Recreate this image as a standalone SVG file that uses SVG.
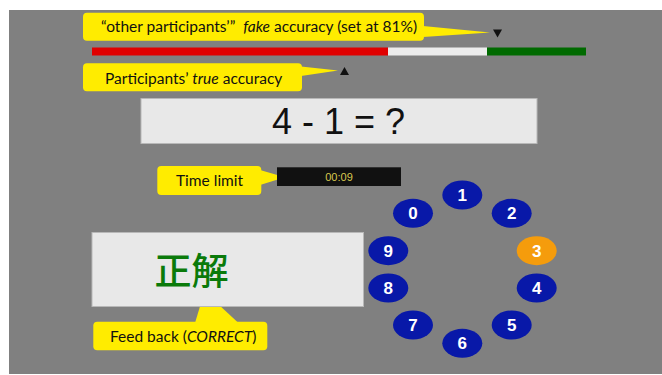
<svg xmlns="http://www.w3.org/2000/svg" width="662" height="375" viewBox="0 0 662 375">
  <style>
    .callout { fill: #ffec00; }
    .note { font-family: Lato, "Liberation Sans", sans-serif; font-size: 15.5px; fill: #111111; }
    .key { fill: #0818a8; }
    .key-on { fill: #f59c0c; }
    .digit { font-family: "Liberation Sans", Arial, sans-serif; font-size: 17px; font-weight: bold; fill: #ffffff; text-anchor: middle; }
    .panel { fill: #e8e8e8; stroke: #b8b8b8; stroke-width: 1; }
  </style>

  <!-- screen -->
  <rect x="0" y="0" width="662" height="375" fill="#ffffff"/>
  <rect x="9" y="10" width="653" height="364" fill="#808080"/>

  <!-- accuracy bar -->
  <g id="accuracy-bar">
    <rect x="92" y="47.5" width="296" height="8" fill="#e00000"/>
    <rect x="388" y="47.5" width="99" height="8" fill="#ececec"/>
    <rect x="487" y="47.5" width="99" height="8" fill="#006a00"/>
    <!-- fake accuracy pointer -->
    <polygon points="493,29.5 502,29.5 497.5,37.5" fill="#111111"/>
    <!-- true accuracy pointer -->
    <polygon points="340,75 349,75 344.5,67" fill="#111111"/>
  </g>

  <!-- callout tails -->
  <g id="connectors">
    <polygon class="callout" points="423,26 490,32.5 423,37"/>
    <polygon class="callout" points="301,66.5 338,70.5 301,76"/>
    <polygon class="callout" points="260,170 285,177.3 260,185"/>
    <polygon class="callout" points="195,323 204.5,291.5 238.5,323"/>
  </g>

  <g id="fake-accuracy-label">
    <rect class="callout" x="83" y="12.7" width="341" height="28" rx="4"/>
    <text class="note" x="101" y="31.5" xml:space="preserve">“other participants’”  <tspan font-style="italic">fake</tspan> accuracy (set at 81%)</text>
  </g>

  <g id="true-accuracy-label">
    <rect class="callout" x="83" y="63.3" width="219" height="28" rx="4"/>
    <text class="note" x="105" y="83.5">Participants’ <tspan font-style="italic">true</tspan> accuracy</text>
  </g>

  <g id="question">
    <rect class="panel" x="141" y="98.5" width="396" height="45"/>
    <text x="338.5" y="134.3" font-family="'Liberation Sans', Arial, sans-serif" font-size="36" fill="#111111" text-anchor="middle">4 - 1 = ?</text>
  </g>

  <g id="timer">
    <rect x="277" y="167.3" width="124" height="18.7" fill="#111111"/>
    <text x="339" y="180.6" font-family="'Liberation Sans', Arial, sans-serif" font-size="11" fill="#d8c850" text-anchor="middle">00:09</text>
  </g>

  <g id="time-limit-label">
    <rect class="callout" x="157.3" y="166" width="104" height="29" rx="4"/>
    <text class="note" x="176" y="185.5">Time limit</text>
  </g>

  <g id="feedback">
    <rect class="panel" x="92" y="232.5" width="271.5" height="74"/>
    <text x="191.5" y="284.5" font-family="'Noto Sans CJK JP', 'Noto Sans CJK SC', sans-serif" font-size="37" font-weight="500" fill="#0a7a0a" text-anchor="middle">正解</text>
  </g>

  <g id="feedback-label">
    <rect class="callout" x="93.3" y="321.7" width="174" height="28.5" rx="4"/>
    <text class="note" x="110" y="341.7">Feed back (<tspan font-style="italic">CORRECT</tspan>)</text>
  </g>

  <!-- answer keypad -->
  <g id="key-1"><ellipse class="key" cx="462.3" cy="195" rx="20" ry="14.5"/><text class="digit" x="462.3" y="201">1</text></g>
  <g id="key-2"><ellipse class="key" cx="511.7" cy="213.3" rx="20" ry="14.5"/><text class="digit" x="511.7" y="219.3">2</text></g>
  <g id="key-3"><ellipse class="key-on" cx="536.7" cy="250.7" rx="20" ry="14.5"/><text class="digit" x="536.7" y="256.7">3</text></g>
  <g id="key-4"><ellipse class="key" cx="536.7" cy="288" rx="20" ry="14.5"/><text class="digit" x="536.7" y="294">4</text></g>
  <g id="key-5"><ellipse class="key" cx="511.7" cy="325" rx="20" ry="14.5"/><text class="digit" x="511.7" y="331">5</text></g>
  <g id="key-6"><ellipse class="key" cx="462.3" cy="343.3" rx="20" ry="14.5"/><text class="digit" x="462.3" y="349.3">6</text></g>
  <g id="key-7"><ellipse class="key" cx="413" cy="325" rx="20" ry="14.5"/><text class="digit" x="413" y="331">7</text></g>
  <g id="key-8"><ellipse class="key" cx="388.3" cy="288" rx="20" ry="14.5"/><text class="digit" x="388.3" y="294">8</text></g>
  <g id="key-9"><ellipse class="key" cx="388.3" cy="250.7" rx="20" ry="14.5"/><text class="digit" x="388.3" y="256.7">9</text></g>
  <g id="key-0"><ellipse class="key" cx="413" cy="213.3" rx="20" ry="14.5"/><text class="digit" x="413" y="219.3">0</text></g>
</svg>
